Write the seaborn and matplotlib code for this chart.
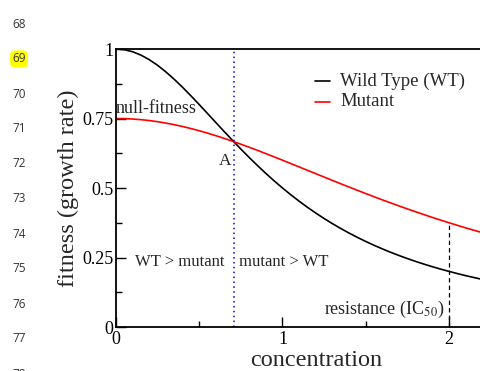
import matplotlib
matplotlib.use("Agg")
import matplotlib.pyplot as plt
import seaborn as sns
import pandas as pd
from matplotlib.ticker import MultipleLocator

sns.set_theme(style="ticks")
plt.rcParams['font.family'] = ['Liberation Serif', 'DejaVu Serif']
plt.rcParams['mathtext.fontset'] = 'stix'

# ---- data ----
concentration = [0.0, 0.05, 0.1, 0.15, 0.2, 0.25, 0.3, 0.35, 0.4, 0.45, 0.5, 0.55,
                 0.6, 0.65, 0.7, 0.75, 0.8, 0.85, 0.9, 0.95, 1.0, 1.05, 1.1, 1.15,
                 1.2, 1.25, 1.3, 1.35, 1.4, 1.45, 1.5, 1.55, 1.6, 1.65, 1.7, 1.75,
                 1.8, 1.85, 1.9, 1.95, 2.0, 2.05, 2.1, 2.15, 2.2]
wild_type = [1.0, 0.9975, 0.9901, 0.978, 0.9615, 0.9412, 0.9174, 0.8909, 0.8621,
             0.8316, 0.8, 0.7678, 0.7353, 0.703, 0.6711, 0.64, 0.6098, 0.5806,
             0.5525, 0.5256, 0.5, 0.4756, 0.4525, 0.4306, 0.4098, 0.3902, 0.3717,
             0.3543, 0.3378, 0.3223, 0.3077, 0.2939, 0.2809, 0.2686, 0.2571,
             0.2462, 0.2358, 0.2261, 0.2169, 0.2082, 0.2, 0.1922, 0.1848, 0.1779,
             0.1712]
mutant = [0.75, 0.7495, 0.7481, 0.7458, 0.7426, 0.7385, 0.7335, 0.7277, 0.7212,
          0.7139, 0.7059, 0.6973, 0.6881, 0.6784, 0.6682, 0.6575, 0.6466, 0.6353,
          0.6237, 0.6119, 0.6, 0.5879, 0.5758, 0.5636, 0.5515, 0.5393, 0.5272,
          0.5152, 0.5034, 0.4916, 0.48, 0.4686, 0.4573, 0.4463, 0.4354, 0.4248,
          0.4144, 0.4042, 0.3942, 0.3845, 0.375, 0.3657, 0.3567, 0.3479, 0.3394]
series_names = ["Wild Type (WT)", "Mutant"]
crossing_c = 0.707
ic50_c = 2.0
ic50_fitness = 0.375
x_ticks = [0, 1, 2]
y_ticks = [0, 0.25, 0.5, 0.75, 1]
y_tick_labels = ["0", "0.25", "0.5", "0.75", "1"]
line_numbers = ["68", "69", "70", "71", "72", "73", "74", "75", "76", "77", "78"]

df = pd.DataFrame({
    "concentration": concentration * 2,
    "fitness": wild_type + mutant,
    "series": [series_names[0]] * len(wild_type) + [series_names[1]] * len(mutant),
})

W, H = 481, 371
fig = plt.figure(figsize=(W / 100, H / 100), dpi=100)
fig.patch.set_facecolor("white")

unit = 166.5
xmax = 2.4
left, bottom, top = 116, 327, 49
ax = fig.add_axes([left / W, (H - bottom) / H, xmax * unit / W, (bottom - top) / H])
ax.set_facecolor("white")

sns.lineplot(data=df, x="concentration", y="fitness", hue="series",
             palette={series_names[0]: "black", series_names[1]: "#ff0000"},
             ax=ax, linewidth=1.2, legend=False)

ax.axvline(crossing_c, color="#0000ff", linestyle=(0, (1, 2.2)), linewidth=1.1)
ax.plot([ic50_c, ic50_c], [0, ic50_fitness], color="black",
        linestyle=(0, (3.5, 2.5)), linewidth=0.9)

ax.set_xlim(0, xmax)
ax.set_ylim(0, 1)
ax.set_xticks(x_ticks)
ax.set_xticklabels([str(t) for t in x_ticks])
ax.set_yticks(y_ticks)
ax.set_yticklabels(y_tick_labels)
ax.xaxis.set_minor_locator(MultipleLocator(0.5))
ax.yaxis.set_minor_locator(MultipleLocator(0.125))
ax.tick_params(which="major", direction="in", length=7, width=1, labelsize=13,
               colors="black", pad=2)
ax.tick_params(which="minor", direction="in", length=4, width=1, colors="black")
ax.tick_params(axis="x", which="major", pad=3)
for s in ax.spines.values():
    s.set_linewidth(1.3)
    s.set_color("black")
ax.set_xlabel("concentration", fontsize=17.5, labelpad=1)
ax.set_ylabel("fitness (growth rate)", fontsize=17.5, labelpad=2)

# legend
fig.lines.append(plt.Line2D([315 / W, 330 / W], [1 - 81 / H, 1 - 81 / H],
                            color="black", linewidth=1.2, transform=fig.transFigure))
fig.lines.append(plt.Line2D([315 / W, 330 / W], [1 - 102 / H, 1 - 102 / H],
                            color="#ff0000", linewidth=1.2, transform=fig.transFigure))
fig.text(340 / W, 1 - 81 / H, series_names[0], fontsize=13.5, va="center", ha="left")
fig.text(340 / W, 1 - 102 / H, series_names[1], fontsize=13.5, va="center", ha="left")

# annotations
ax.text(0.0, 0.755, "null-fitness", fontsize=13, ha="left", va="bottom")
ax.text(0.655, 0.597, "A", fontsize=12.5, ha="center", va="center")
ax.text(0.385, 0.234, "WT > mutant", fontsize=12, ha="center", va="center")
ax.text(1.005, 0.234, "mutant > WT", fontsize=12, ha="center", va="center")
ax.text(1.97, 0.025, r"resistance (IC$_{50}$)", fontsize=13, ha="right", va="bottom")

# document line numbers
for i, lab in enumerate(line_numbers):
    y = 24 + i * 35
    kw = {}
    if lab == "69":
        kw["bbox"] = dict(boxstyle="round,pad=0.18,rounding_size=0.4",
                          fc="#ffff00", ec="none")
    fig.text(19 / W, 1 - y / H, lab, fontsize=8.5, ha="center", va="center",
             family=["Open Sans", "DejaVu Sans"], color="#333333", **kw)

fig.savefig("out.png", dpi=100, facecolor="white")
